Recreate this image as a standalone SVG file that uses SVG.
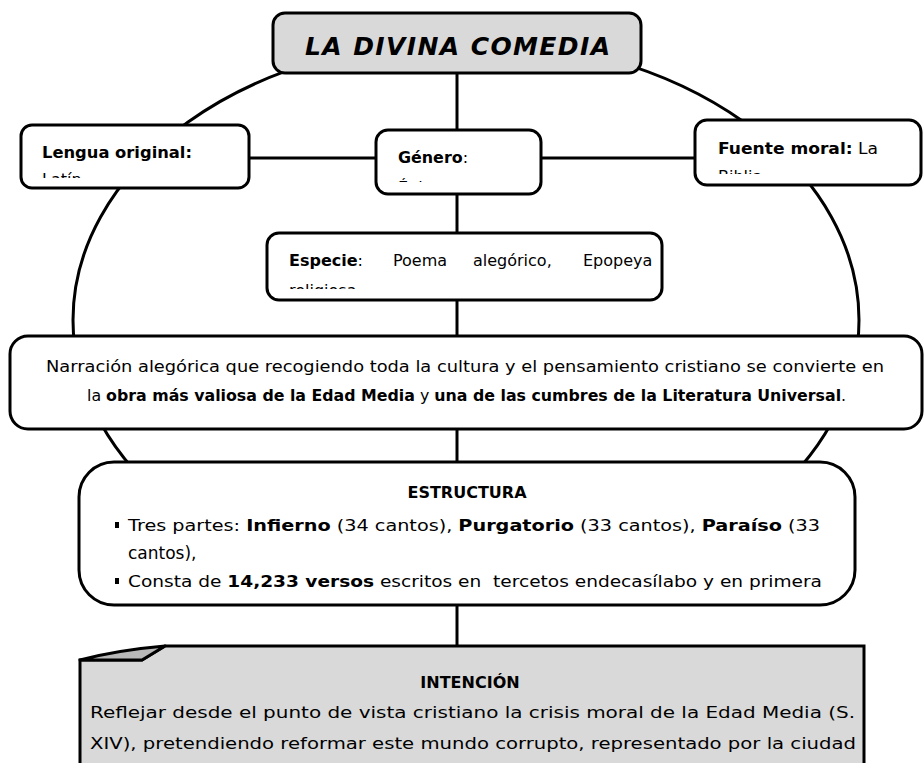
<svg xmlns="http://www.w3.org/2000/svg" width="924" height="763" viewBox="0 0 924 763">
<style>
.box{fill:#fff;stroke:#000;stroke-width:3}
.gray{fill:#d9d9d9;stroke:#000;stroke-width:3}
.conn{fill:none;stroke:#000;stroke-width:3}
text{font-family:"DejaVu Sans","Liberation Sans",sans-serif;font-size:15px;fill:#000}
.b{font-weight:bold}
.lbl{font-size:16px}
.body{font-size:16px}
</style>
<defs>
<clipPath id="cL"><rect x="21" y="125" width="228" height="53"/></clipPath>
<clipPath id="cG"><rect x="376" y="130" width="165" height="52"/></clipPath>
<clipPath id="cF"><rect x="695" y="120" width="230" height="54"/></clipPath>
<clipPath id="cE"><rect x="267" y="233" width="395" height="56"/></clipPath>
</defs>
<g id="connectors">
<ellipse class="conn" cx="466" cy="320" rx="393" ry="280"/>
<line class="conn" x1="457" y1="73" x2="457" y2="130"/>
<line class="conn" x1="248" y1="158" x2="377" y2="158"/>
<line class="conn" x1="541" y1="158" x2="695" y2="158"/>
<line class="conn" x1="457" y1="193" x2="457" y2="233"/>
<line class="conn" x1="457" y1="300" x2="457" y2="336"/>
<line class="conn" x1="457" y1="429" x2="457" y2="462"/>
<line class="conn" x1="457" y1="605" x2="457" y2="648"/>
</g>
<g id="title">
<rect class="gray" x="273" y="13" width="368" height="60" rx="12"/>
<text x="305" y="55" class="b" style="font-size:25px;font-style:italic" textLength="305" lengthAdjust="spacing">LA DIVINA COMEDIA</text>
</g>
<g id="lengua">
<rect class="box" x="21" y="125" width="228" height="63" rx="11"/>
<text x="42" y="158" class="b lbl" textLength="150" lengthAdjust="spacingAndGlyphs">Lengua original:</text>
<text x="42" y="185" class="lbl" clip-path="url(#cL)">Latín</text>
</g>
<g id="genero">
<rect class="box" x="376" y="130" width="165" height="64" rx="12"/>
<text x="398" y="163" class="lbl" textLength="70" lengthAdjust="spacingAndGlyphs"><tspan class="b">Género</tspan>:</text>
<text x="398" y="193" class="lbl" clip-path="url(#cG)">Épica</text>
</g>
<g id="fuente">
<rect class="box" x="695" y="120" width="226" height="65" rx="12"/>
<text x="718" y="154" class="lbl" textLength="160" lengthAdjust="spacingAndGlyphs"><tspan class="b">Fuente moral:</tspan> La</text>
<text x="718" y="182" class="lbl" clip-path="url(#cF)">Biblia</text>
</g>
<g id="especie">
<rect class="box" x="267" y="233" width="395" height="67" rx="12"/>
<text x="289" y="266" class="b lbl">Especie<tspan style="font-weight:normal">:</tspan></text>
<text x="393" y="266" class="lbl">Poema</text>
<text x="473" y="266" class="lbl">alegórico,</text>
<text x="583" y="266" class="lbl">Epopeya</text>
<text x="289" y="296" class="lbl" clip-path="url(#cE)">religiosa</text>
</g>
<g id="narracion">
<rect class="box" x="10" y="336" width="912" height="93" rx="18"/>
<text x="46" y="372" class="body" textLength="838" lengthAdjust="spacingAndGlyphs">Narración alegórica que recogiendo toda la cultura y el pensamiento cristiano se convierte en</text>
<text x="87" y="401" class="body" style="font-size:15.8px">la <tspan class="b">obra más valiosa de la Edad Media</tspan> y <tspan class="b">una de las cumbres de la Literatura Universal</tspan>.</text>
</g>
<g id="estructura">
<rect class="box" x="79" y="462" width="776" height="143" rx="35"/>
<text x="467" y="498" class="b body" text-anchor="middle">ESTRUCTURA</text>
<rect x="115" y="522" width="4" height="6" fill="#000"/>
<text x="128" y="531" class="body" textLength="692" lengthAdjust="spacingAndGlyphs">Tres partes: <tspan class="b">Infierno</tspan> (34 cantos), <tspan class="b">Purgatorio</tspan> (33 cantos), <tspan class="b">Paraíso</tspan> (33</text>
<text x="128" y="559" class="body" style="font-size:17px">cantos),</text>
<rect x="115" y="578" width="4" height="6" fill="#000"/>
<text x="128" y="587" class="body" textLength="694" lengthAdjust="spacingAndGlyphs">Consta de <tspan class="b">14,233 versos</tspan> escritos en&#160; tercetos endecasílabo y en primera</text>
</g>
<g id="intencion">
<path class="gray" d="M80,660 L142,660 L165,646 L864,646 L864,775 L80,775 Z"/>
<path d="M80,660 Q118,650 165,646 L142,660 Z" fill="#b8b8b8" stroke="#000" stroke-width="3" stroke-linejoin="round"/>
<text x="470" y="688" class="b body" text-anchor="middle">INTENCIÓN</text>
<text x="90" y="718" class="body" textLength="765" lengthAdjust="spacingAndGlyphs">Reflejar desde el punto de vista cristiano la crisis moral de la Edad Media (S.</text>
<text x="90" y="749" class="body" textLength="766" lengthAdjust="spacingAndGlyphs">XIV), pretendiendo reformar este mundo corrupto, representado por la ciudad</text>
</g>
</svg>
